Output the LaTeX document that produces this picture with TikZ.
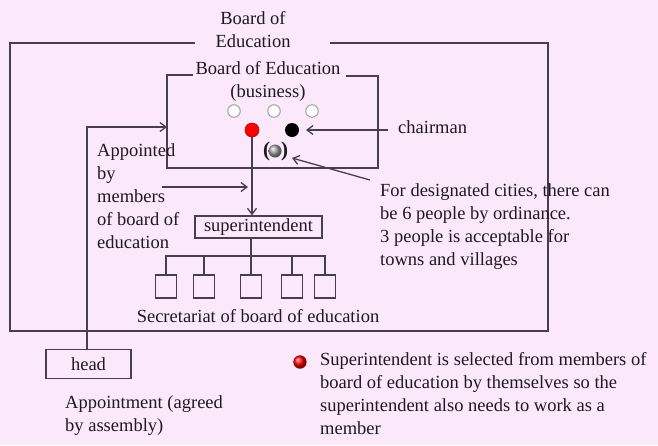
\documentclass[tikz,border=0pt]{standalone}
\usepackage{fontspec}
\setmainfont{Liberation Serif}
\usetikzlibrary{arrows.meta,shapes.geometric}
\definecolor{bg}{RGB}{251,232,251}
\definecolor{ink}{RGB}{72,62,82}
\definecolor{txt}{RGB}{30,25,35}
\begin{document}
\begin{tikzpicture}[x=1pt,y=-1pt,
  line/.style={draw=ink,line width=1.3pt},
  arr/.style={line,-{Straight Barb[length=6pt,width=9pt]}},
  lbl/.style={text=txt,font=\fontsize{18.5}{23}\selectfont,inner sep=0pt},
  lblL/.style={lbl,align=left,anchor=north west},
  boxnode/.style={draw=ink,line width=1.3pt,fill=bg,text=txt,font=\fontsize{18.5}{20}\selectfont,inner sep=0pt},
  secbox/.style={draw=ink,line width=1.3pt,fill=bg,minimum width=21pt,minimum height=23pt,inner sep=0pt},
  member/.style={circle,draw=gray!75,line width=1pt,fill=white,minimum size=12.5pt,inner sep=0pt},
  dot/.style={circle,minimum size=14pt,inner sep=0pt}]
\useasboundingbox (0,0) rectangle (658,445);
\fill[bg] (0,0) rectangle (658,445);

% outer frame: Board of Education
\node[lbl,align=center] (boe) at (253,30) {Board of\\Education};
\draw[line] (195,43) -- (10,43) -- (10,331) -- (548,331) -- (548,43) -- (330,43);

% inner frame: Board of Education (business)
\node[lbl,align=center] (boeb) at (268,81) {Board of Education\\(business)};
\draw[line] (193,75) -- (167,75) -- (167,168) -- (378,168) -- (378,76) -- (346,76);

% members
\node[member] (m1) at (234,111) {};
\node[member] (m2) at (274,111) {};
\node[member] (m3) at (312,111) {};
\node[dot,fill=red,draw=red!75!black,line width=0.6pt] (sup) at (252,130) {};
\node[dot,fill=black] (chair) at (292,130) {};
\node[circle,minimum size=13pt,inner sep=0pt,ball color=gray!70] (opt) at (275,151) {};
\node[lbl,font=\bfseries\fontsize{21}{21}\selectfont] at (266.5,151) {(};
\node[lbl,font=\bfseries\fontsize{21}{21}\selectfont] at (284.5,151) {)};

% superintendent and secretariat
\node[boxnode,minimum width=127pt,minimum height=22pt] (si) at (258.5,227) {superintendent};
\draw[arr] (sup) -- (sup.center |- si.north);
\coordinate (aptail) at (162,187);
\coordinate (aphead) at (248,187);
\draw[arr] (aptail) -- (aphead);
\node[lblL] (apt) at (97,143) {Appointed\\by\\members\\of board of\\education};

\node[secbox] (s1) at (166,286.5) {};
\node[secbox] (s2) at (204,286.5) {};
\node[secbox] (s3) at (251,286.5) {};
\node[secbox] (s4) at (292,286.5) {};
\node[secbox] (s5) at (325,286.5) {};
\coordinate (bus) at (251,256);
\draw[line] (si.south -| s3) -- (s3.north);
\draw[line] (s1.north) -- (s1.north |- bus) -- (s5.north |- bus) -- (s5.north);
\draw[line] (s2.north |- bus) -- (s2.north);
\draw[line] (s4.north |- bus) -- (s4.north);
\node[lbl] (sec) at (258,316) {Secretariat of board of education};

% head
\node[boxnode,minimum width=85pt,minimum height=29pt] (head) at (88.5,364) {head};
\coordinate (corner) at (87,127);
\draw[arr] (head.north -| corner) -- (corner) -- (167,127);
\node[lblL] (appt) at (65,395) {Appointment (agreed\\by assembly)};

% chairman
\node[lbl,anchor=west] (chl) at (398,127) {chairman};
\coordinate (chtail) at (388,130);
\coordinate (chtip) at (306,130);
\draw[arr] (chtail) -- (chtip);
\node[lblL] (cities) at (380,183) {For designated cities, there can\\be 6 people by ordinance.\\3 people is acceptable for\\towns and villages};
\coordinate (ctail) at (370,180);
\coordinate (ctip) at (292,158);
\draw[arr] (ctail) -- (ctip);

% note on the red member
\node[dot,minimum size=13pt,ball color=red,draw=red!75!black,line width=0.3pt] (bul) at (300,362) {};
\node[lblL] (note) at (320,352) {Superintendent is selected from members of\\board of education by themselves so the\\superintendent also needs to work as a\\member};
\end{tikzpicture}
\end{document}
